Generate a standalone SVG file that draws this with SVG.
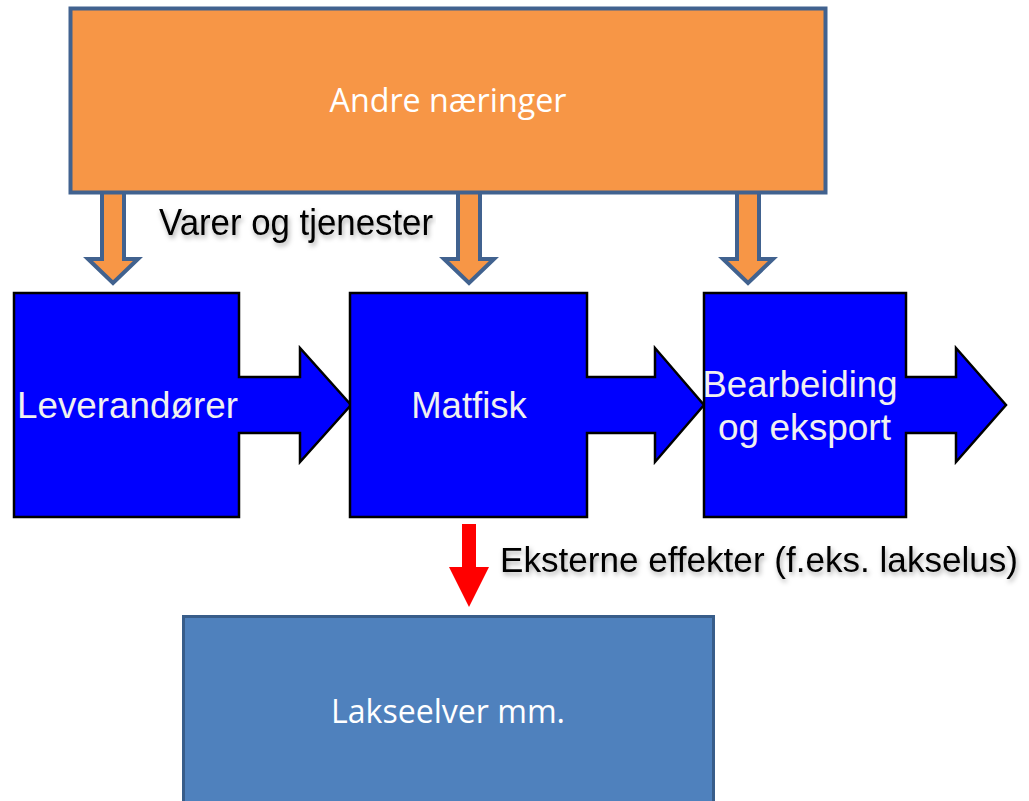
<svg xmlns="http://www.w3.org/2000/svg" width="1029" height="801" viewBox="0 0 1029 801">
<style>
.orange{fill:#F79646;stroke:#41628F;stroke-width:4;stroke-linejoin:miter}
.blue{fill:#0000FF;stroke:#000000;stroke-width:2.5;stroke-linejoin:miter}
.lt{font-family:"Open Sans","Liberation Sans",sans-serif;font-size:32px;fill:#FFFFFF;text-anchor:middle}
.bt{font-family:"Liberation Sans",Arial,sans-serif;font-size:36.5px;fill:#F0F0F0;text-anchor:middle}
.lab{font-family:"Liberation Sans",Arial,sans-serif;font-size:37px;fill:#000000;filter:url(#sh)}
</style>
<defs>
<filter id="sh" x="-1%" y="-20%" width="102%" height="150%">
<feDropShadow dx="1.5" dy="3" stdDeviation="2.5" flood-color="#000000" flood-opacity="0.35"/>
</filter>
</defs>
<g id="connectors">
<path class="orange" d="M102,190 H124 V259 H138 L113,283 L88,259 H102 Z"/>
<path class="orange" d="M458,190 H480 V259 H494 L469,283 L444,259 H458 Z"/>
<path class="orange" d="M737,190 H759 V259 H773 L748,283 L723,259 H737 Z"/>
<polygon fill="#FF0000" points="462,524 476,524 476,567 489,567 469,607 449,567 462,567"/>
</g>
<g id="andre">
<rect class="orange" x="70.5" y="8.5" width="755" height="184"/>
<text class="lt" x="448" y="112" textLength="237" lengthAdjust="spacingAndGlyphs">Andre næringer</text>
</g>
<g id="leverandorer">
<path class="blue" d="M14,293 H239 V377 H300 V348 L351,405 L300,462 V433 H239 V517 H14 Z"/>
<text class="bt" x="127.5" y="418" textLength="221" lengthAdjust="spacingAndGlyphs">Leverandører</text>
</g>
<g id="matfisk">
<path class="blue" d="M350,293 H587 V377 H655 V348 L704,405 L655,462 V433 H587 V517 H350 Z"/>
<text class="bt" x="469" y="418">Matfisk</text>
</g>
<g id="bearbeiding">
<path class="blue" d="M704,293 H906 V377 H956 V348 L1006,405 L956,462 V433 H906 V517 H704 Z"/>
<text class="bt" x="800" y="397" textLength="195" lengthAdjust="spacingAndGlyphs">Bearbeiding</text>
<text class="bt" x="804.5" y="440" textLength="173" lengthAdjust="spacingAndGlyphs">og eksport</text>
</g>
<g id="lakseelver">
<rect x="183.5" y="616.5" width="530" height="200" fill="#4F81BD" stroke="#385D8A" stroke-width="3"/>
<text class="lt" x="448" y="723" textLength="234" lengthAdjust="spacingAndGlyphs">Lakseelver mm.</text>
</g>
<g id="labels">
<text class="lab" x="159" y="235" textLength="274" lengthAdjust="spacingAndGlyphs">Varer og tjenester</text>
<text class="lab" x="500" y="572" style="font-size:35px" textLength="518" lengthAdjust="spacingAndGlyphs">Eksterne effekter (f.eks. lakselus)</text>
</g>
</svg>
